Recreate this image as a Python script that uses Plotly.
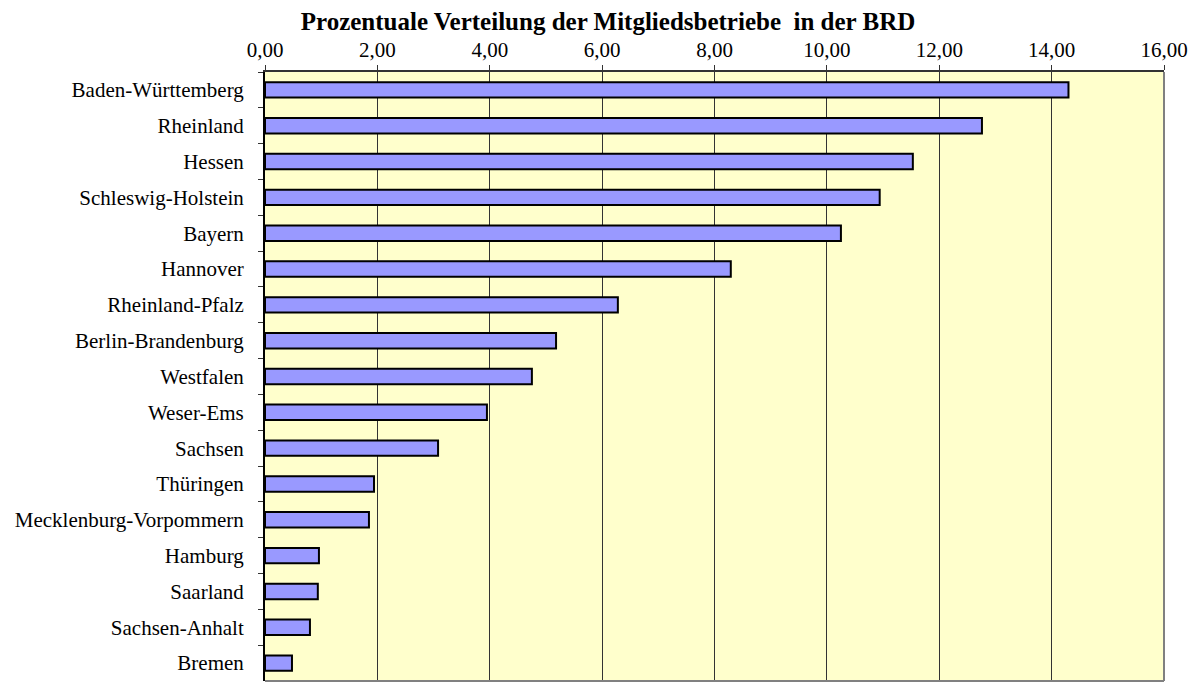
import plotly.graph_objects as go

# Regionen und Anteile (%)
regionen = [
    "Baden-Württemberg", "Rheinland", "Hessen", "Schleswig-Holstein", "Bayern",
    "Hannover", "Rheinland-Pfalz", "Berlin-Brandenburg", "Westfalen", "Weser-Ems",
    "Sachsen", "Thüringen", "Mecklenburg-Vorpommern", "Hamburg", "Saarland",
    "Sachsen-Anhalt", "Bremen",
]
anteile = [14.30, 12.76, 11.53, 10.94, 10.25, 8.29, 6.28, 5.18, 4.75, 3.95,
           3.08, 1.94, 1.85, 0.96, 0.94, 0.80, 0.48]
x_ticks = [0, 2, 4, 6, 8, 10, 12, 14, 16]

font = "Liberation Serif, Times New Roman, serif"

# die Seite hat 8px body-margin -> Figur entsprechend kleiner
W, H = 1190, 674

fig = go.Figure()
fig.add_trace(go.Bar(
    x=anteile, y=regionen, orientation="h",
    marker=dict(color="#9999FF", line=dict(color="black", width=2)),
    hoverinfo="x+y",
))

fig.update_layout(
    width=W, height=H,
    margin=dict(l=257, r=34, t=64, b=1),
    paper_bgcolor="white", plot_bgcolor="#FFFFCC",
    font=dict(family=font, size=21, color="black"),
    separators=",.",
    bargap=0.57,
    showlegend=False,
    title=dict(
        text="<b>Prozentuale Verteilung der Mitgliedsbetriebe  in der BRD</b>",
        font=dict(family=font, size=25, color="black"),
        x=600 / W, xref="container", xanchor="center",
        y=1 - 4 / H, yref="container", yanchor="top",
        pad=dict(t=0, b=0),
    ),
)

fig.update_xaxes(
    side="top", range=[0, 16], tickvals=x_ticks, tickformat=".2f",
    showgrid=True, gridcolor="#333333", gridwidth=1,
    zeroline=False,
    showline=True, linecolor="#333333", linewidth=2,
    ticks="outside", ticklen=5, tickcolor="#333333", tickwidth=1,
    tickfont=dict(family=font, size=21),
)
fig.update_yaxes(
    categoryorder="array", categoryarray=regionen, autorange="reversed",
    showline=True, linecolor="black", linewidth=2,
    ticks="outside", tickson="boundaries", ticklen=5, tickcolor="#333333",
    tickfont=dict(family=font, size=21),
    ticklabelstandoff=15,
)

# graue Rahmenlinien rechts und unten
fig.add_shape(type="line", xref="paper", yref="paper", x0=1, x1=1, y0=0, y1=1,
              line=dict(color="#808080", width=2))
fig.add_shape(type="line", xref="paper", yref="paper", x0=0, x1=1, y0=0, y1=0,
              line=dict(color="#808080", width=2))

fig.write_html("out.html")
